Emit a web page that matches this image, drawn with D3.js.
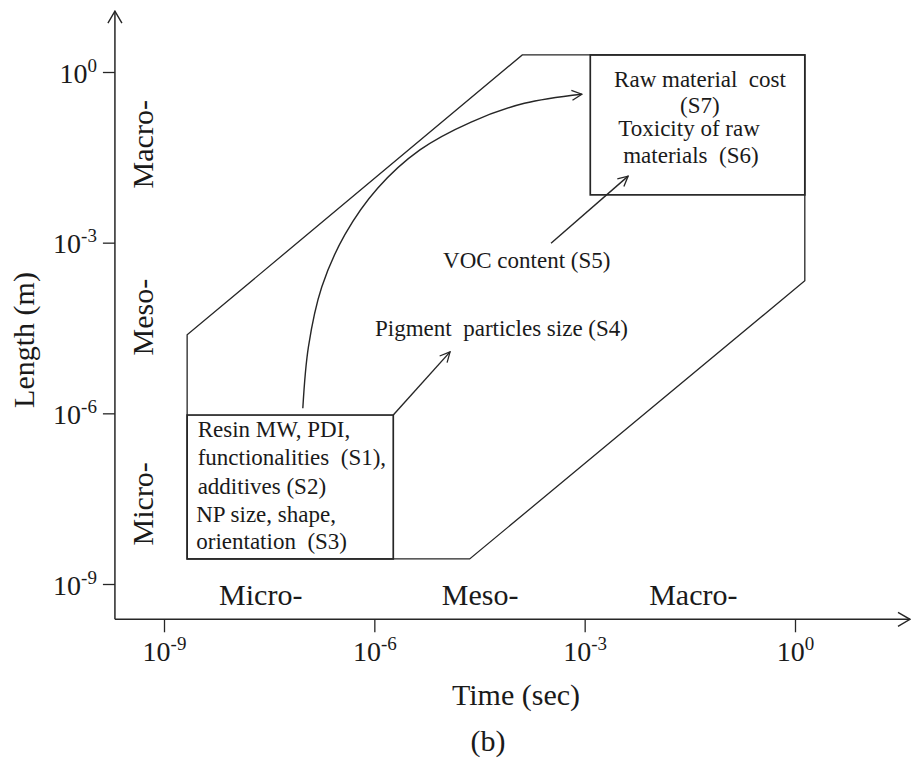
<!DOCTYPE html>
<html>
<head>
<meta charset="utf-8">
<script src="https://cdn.jsdelivr.net/npm/d3@7/dist/d3.min.js"></script>
<style>
  html, body { margin: 0; padding: 0; background: #fff; }
  svg { display: block; }
  text { font-family: "Liberation Serif", "Times New Roman", serif; fill: #1a1a1a; white-space: pre; }
</style>
</head>
<body>
<svg id="chart" width="911" height="766"></svg>
<script>
// ---- data (log10 units) ----
const tickExponents = [-9, -6, -3, 0];
const xRegionLabels = ["Micro-", "Meso-", "Macro-"];
const xRegionCenters = [-7.62, -4.49, -1.45];
const yRegionLabels = ["Macro-", "Meso-", "Micro-"];
const yRegionCenters = [-1.27, -4.31, -7.59];

// outer envelope (time exp, length exp)
const envelopeX = [-8.67, -8.67, -3.89, 0.14, 0.14, -4.64];
const envelopeY = [-8.56, -4.62, 0.30, 0.30, -3.67, -8.56];

// small (micro) box and large (macro) box: [x0, x1, y0, y1]
const microBox = [-8.67, -5.73, -8.56, -6.03];
const macroBox = [-2.92, 0.14, -2.16, 0.30];

// straight arrows: [x0, y0, x1, y1]
const pigmentArrow = [-5.73, -6.03, -4.92, -4.92];
const vocArrow = [-3.48, -3.01, -2.38, -1.83];

// curved arrow path
const curveX = [-7.02, -6.94, -6.75, -6.42, -5.95, -5.35, -4.62, -3.86, -3.04];
const curveY = [-5.91, -4.83, -3.78, -2.86, -2.04, -1.37, -0.88, -0.55, -0.39];

// annotation lines: text, x exp (left), y exp (baseline)
const noteText = ["Raw material  cost", "(S7)", "Toxicity of raw", "materials  (S6)",
                  "VOC content (S5)", "Pigment  particles size (S4)",
                  "Resin MW, PDI,", "functionalities  (S1),", "additives (S2)",
                  "NP size, shape,", "orientation  (S3)"];
const noteX = [-2.58, -1.64, -2.52, -2.45, -5.02, -5.99, -8.52, -8.52, -8.52, -8.54, -8.54];
const noteY = [-0.26, -0.72, -1.13, -1.60, -3.45, -4.64, -6.42, -6.91, -7.42, -7.91, -8.38];

const xTitle = "Time (sec)";
const yTitle = "Length (m)";
const caption = "(b)";

// ---- scales ----
const x = d3.scaleLog().domain([1e-9, 1]).range([164, 795]);
const y = d3.scaleLog().domain([1e-9, 1]).range([584, 72]);
const X = e => x(Math.pow(10, e));
const Y = e => y(Math.pow(10, e));

const svg = d3.select("#chart");
const ink = "#262626";

const defs = svg.append("defs");
defs.append("marker").attr("id", "head")
  .attr("viewBox", "0 0 12 12").attr("refX", 11).attr("refY", 6)
  .attr("markerWidth", 12).attr("markerHeight", 12).attr("markerUnits", "userSpaceOnUse")
  .attr("orient", "auto")
  .append("path").attr("d", "M1,1 L11,6 L1,11").attr("fill", "none")
  .attr("stroke", ink).attr("stroke-width", 1.3);
defs.append("marker").attr("id", "axhead")
  .attr("viewBox", "0 0 16 16").attr("refX", 15).attr("refY", 8)
  .attr("markerWidth", 16).attr("markerHeight", 16).attr("markerUnits", "userSpaceOnUse")
  .attr("orient", "auto")
  .append("path").attr("d", "M3,1 L15,8 L3,15").attr("fill", "none")
  .attr("stroke", ink).attr("stroke-width", 1.4);

// ---- axes ----
const xAxisY = Y(-9.62);
const yAxisX = X(-9.70);

svg.append("line").attr("x1", yAxisX).attr("y1", xAxisY).attr("x2", X(1.64)).attr("y2", xAxisY)
  .attr("stroke", ink).attr("stroke-width", 1.5).attr("marker-end", "url(#axhead)");
svg.append("line").attr("x1", yAxisX).attr("y1", xAxisY).attr("x2", yAxisX).attr("y2", Y(1.07))
  .attr("stroke", ink).attr("stroke-width", 1.5).attr("marker-end", "url(#axhead)");

const tickVals = tickExponents.map(e => Math.pow(10, e));

function supLabel(sel) {
  sel.each(function(d) {
    const t = d3.select(this);
    t.text(null);
    t.append("tspan").text("10").attr("font-size", 28);
    t.append("tspan").text(String(Math.round(Math.log10(d)))).attr("font-size", 19).attr("dy", -11);
  });
}

const gx = svg.append("g").attr("transform", `translate(0,${xAxisY})`)
  .call(d3.axisBottom(x).tickValues(tickVals).tickSize(13).tickSizeOuter(0));
gx.select(".domain").remove();
gx.selectAll(".tick line").attr("stroke", ink).attr("stroke-width", 1.3);
gx.selectAll(".tick text").attr("y", 42).attr("dy", 0).attr("fill", "#1a1a1a")
  .attr("font-family", "Liberation Serif").attr("text-anchor", "middle").call(supLabel);

const gy = svg.append("g").attr("transform", `translate(${yAxisX},0)`)
  .call(d3.axisLeft(y).tickValues(tickVals).tickSize(12).tickSizeOuter(0));
gy.select(".domain").remove();
gy.selectAll(".tick line").attr("stroke", ink).attr("stroke-width", 1.3);
gy.selectAll(".tick text").attr("x", -18).attr("y", 10).attr("dy", 0).attr("fill", "#1a1a1a")
  .attr("font-family", "Liberation Serif").attr("text-anchor", "end").call(supLabel);

// region labels
svg.selectAll("text.xreg").data(xRegionLabels).enter().append("text")
  .attr("class", "xreg").attr("x", (d, i) => X(xRegionCenters[i])).attr("y", Y(-9.37))
  .attr("text-anchor", "middle").attr("font-size", 30).text(d => d);
svg.selectAll("text.yreg").data(yRegionLabels).enter().append("text")
  .attr("class", "yreg")
  .attr("transform", (d, i) => `translate(${X(-9.16)},${Y(yRegionCenters[i])}) rotate(-90)`)
  .attr("text-anchor", "middle").attr("font-size", 30).text(d => d);

// titles
svg.append("text").attr("x", 516).attr("y", 705).attr("text-anchor", "middle")
  .attr("font-size", 30).text(xTitle);
svg.append("text").attr("transform", "translate(34,340) rotate(-90)").attr("text-anchor", "middle")
  .attr("font-size", 30).text(yTitle);
svg.append("text").attr("x", 488).attr("y", 751).attr("text-anchor", "middle")
  .attr("font-size", 30).text(caption);

// ---- envelope ----
const envPts = envelopeX.map((e, i) => [X(e), Y(envelopeY[i])]);
svg.append("path").attr("d", d3.line()(envPts) + "Z")
  .attr("fill", "none").attr("stroke", ink).attr("stroke-width", 1.3);

// boxes
[microBox, macroBox].forEach(b => {
  svg.append("rect").attr("x", X(b[0])).attr("y", Y(b[3]))
    .attr("width", X(b[1]) - X(b[0])).attr("height", Y(b[2]) - Y(b[3]))
    .attr("fill", "none").attr("stroke", ink).attr("stroke-width", 1.7);
});

// arrows
[pigmentArrow, vocArrow].forEach(a => {
  svg.append("line").attr("x1", X(a[0])).attr("y1", Y(a[1])).attr("x2", X(a[2])).attr("y2", Y(a[3]))
    .attr("stroke", ink).attr("stroke-width", 1.4).attr("marker-end", "url(#head)");
});

const curvePts = curveX.map((e, i) => [X(e), Y(curveY[i])]);
svg.append("path").attr("d", d3.line().curve(d3.curveCatmullRom.alpha(0.5))(curvePts))
  .attr("fill", "none").attr("stroke", ink).attr("stroke-width", 1.4).attr("marker-end", "url(#head)");

// annotations
svg.selectAll("text.note").data(noteText).enter().append("text")
  .attr("class", "note").attr("x", (d, i) => X(noteX[i])).attr("y", (d, i) => Y(noteY[i]))
  .attr("font-size", 23).attr("xml:space", "preserve").text(d => d);
</script>
</body>
</html>
